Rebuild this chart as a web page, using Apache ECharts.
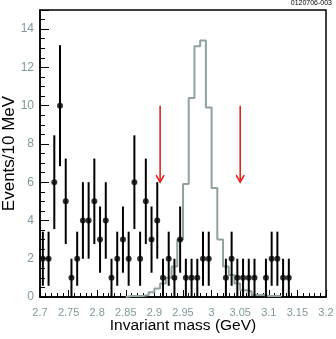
<!DOCTYPE html>
<html>
<head>
<meta charset="utf-8">
<script src="https://cdn.jsdelivr.net/npm/echarts@6/dist/echarts.min.js"></script>
<style>
  html, body { margin: 0; padding: 0; background: #fff; }
  #chart { width: 336px; height: 339px; }
</style>
</head>
<body>
<div id="chart"></div>
<script>
// data points (bin centres, GeV) and counts per 10 MeV
const massCenters = [2.705, 2.715, 2.725, 2.735, 2.745, 2.755, 2.765, 2.775, 2.785, 2.795,
  2.805, 2.815, 2.825, 2.835, 2.845, 2.855, 2.865, 2.875, 2.885, 2.895,
  2.905, 2.915, 2.925, 2.935, 2.945, 2.955, 2.965, 2.975, 2.985, 2.995,
  3.025, 3.035, 3.045, 3.055, 3.065, 3.075, 3.095, 3.105, 3.115, 3.125, 3.135];
const counts = [2, 2, 6, 10, 5, 1, 2, 4, 4, 5,
  3, 4, 1, 2, 3, 2, 6, 2, 5, 3,
  4, 1, 2, 1, 3, 1, 1, 1, 2, 2,
  1, 2, 1, 1, 1, 1, 1, 2, 2, 1, 1];

// MC signal histogram (left bin edges, height)
const mcEdges = [2.85, 2.86, 2.87, 2.88, 2.89, 2.90, 2.91, 2.92, 2.93, 2.94,
  2.95, 2.96, 2.97, 2.98, 2.99, 3.00, 3.01, 3.02, 3.03, 3.04,
  3.05, 3.06, 3.07, 3.08, 3.09, 3.10, 3.11];
const mcValues = [0.05, 0.05, 0.05, 0.1, 0.25, 0.45, 0.7, 1.0, 1.6, 3.0,
  5.9, 10.4, 13.1, 13.4, 9.9, 5.7, 3.0, 1.6, 1.15, 0.7,
  0.35, 0.3, 0.1, 0.1, 0.05, 0.05, 0.05];
const mcBinWidth = 0.01;

// signal window arrows
const arrowX = [2.91, 3.05];
const arrowFrom = 10;
const arrowTo = 6;

const tickColor = "#7f9a9b";
const font = "Liberation Sans, Arial, Helvetica, sans-serif";

const chart = echarts.init(document.getElementById("chart"));

const histData = [[mcEdges[0], 0]];
mcEdges.forEach((e, i) => histData.push([e, mcValues[i]]));
histData.push([mcEdges[mcEdges.length - 1] + mcBinWidth, 0]);

const errData = massCenters.map((m, i) => {
  const s = Math.sqrt(counts[i]);
  return [m, counts[i], Math.max(0, counts[i] - s), counts[i] + s];
});

const option = {
  animation: false,
  backgroundColor: "#fff",
  textStyle: { fontFamily: font },
  graphic: [
    {
      type: "text",
      right: 4,
      top: 0,
      style: { text: "0120706-003", fontSize: 7, fill: "#000", fontFamily: font }
    }
  ],
  grid: {
    left: 40,
    right: 10,
    top: 10,
    bottom: 42,
    outerBoundsMode: "none",
    containLabel: false,
    show: true,
    borderColor: "#000",
    borderWidth: 1.5,
    backgroundColor: "transparent"
  },
  xAxis: {
    type: "value",
    min: 2.7,
    max: 3.2,
    interval: 0.05,
    name: "Invariant mass (GeV)",
    nameLocation: "middle",
    nameMoveOverlap: false,
    nameGap: 21,
    nameTextStyle: { fontSize: 15.5, color: "#000", fontFamily: font },
    axisLine: { lineStyle: { color: "#000", width: 1.5 } },
    axisTick: { inside: true, length: 7, lineStyle: { color: "#000" } },
    minorTick: { show: true, splitNumber: 5, length: 4, lineStyle: { color: "#000" } },
    axisLabel: { color: tickColor, fontSize: 11, margin: 10, fontFamily: font },
    splitLine: { show: false }
  },
  yAxis: {
    type: "value",
    min: 0,
    max: 15,
    interval: 2,
    name: "Events/10 MeV",
    nameLocation: "middle",
    nameMoveOverlap: false,
    nameGap: 22,
    nameTextStyle: { fontSize: 17, color: "#000", fontFamily: font },
    axisLine: { lineStyle: { color: "#000", width: 1.5 } },
    axisTick: { inside: true, length: 9, lineStyle: { color: "#000" } },
    minorTick: { show: true, splitNumber: 4, length: 5, lineStyle: { color: "#000" } },
    axisLabel: { color: tickColor, fontSize: 12, margin: 6, showMaxLabel: false, fontFamily: font },
    splitLine: { show: false }
  },
  series: [
    {
      type: "line",
      step: "end",
      data: histData,
      symbol: "none",
      lineStyle: { color: "#8fa1a1", width: 2 },
      z: 1
    },
    {
      type: "custom",
      data: errData,
      z: 3,
      renderItem: (params, api) => {
        const lo = api.coord([api.value(0), api.value(2)]);
        const hi = api.coord([api.value(0), api.value(3)]);
        return {
          type: "line",
          shape: { x1: lo[0], y1: lo[1], x2: hi[0], y2: hi[1] },
          style: { stroke: "#000", lineWidth: 2 }
        };
      }
    },
    {
      type: "scatter",
      data: massCenters.map((m, i) => [m, counts[i]]),
      symbol: "circle",
      symbolSize: 6,
      itemStyle: { color: "#000" },
      z: 4
    },
    {
      type: "custom",
      data: arrowX.map((x) => [x, arrowFrom, arrowTo]),
      z: 5,
      renderItem: (params, api) => {
        const top = api.coord([api.value(0), api.value(1)]);
        const tip = api.coord([api.value(0), api.value(2)]);
        const st = { stroke: "#e8231c", lineWidth: 1.6 };
        return {
          type: "group",
          children: [
            { type: "line", shape: { x1: top[0], y1: top[1], x2: tip[0], y2: tip[1] }, style: st },
            { type: "polyline", shape: { points: [[tip[0] - 4, tip[1] - 7], [tip[0], tip[1]], [tip[0] + 4, tip[1] - 7]] }, style: Object.assign({ fill: "none" }, st) }
          ]
        };
      }
    }
  ]
};

chart.setOption(option);
</script>
</body>
</html>
